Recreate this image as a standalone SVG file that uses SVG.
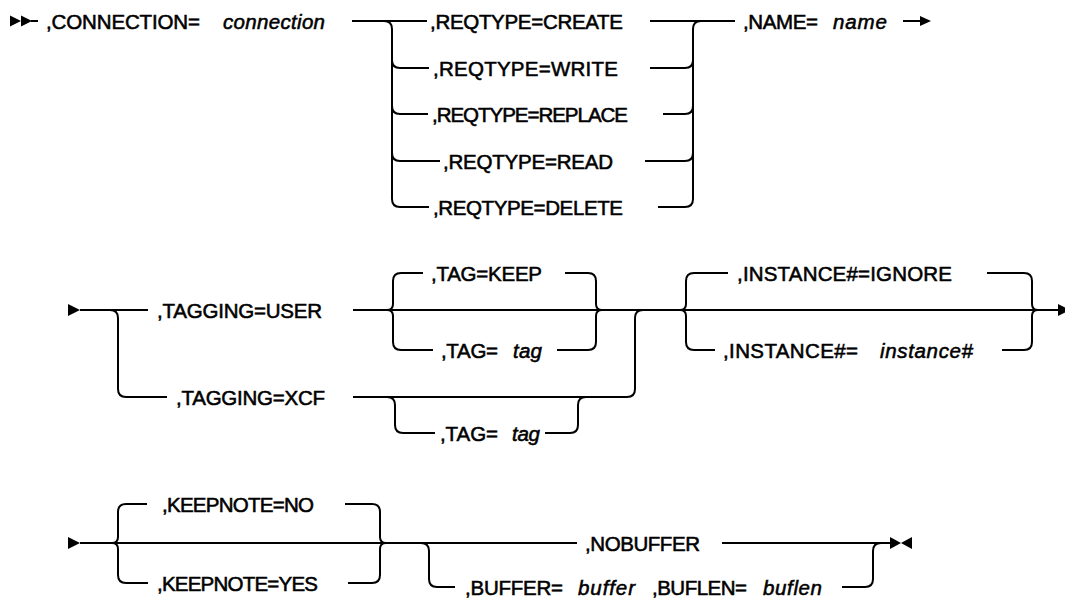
<svg xmlns="http://www.w3.org/2000/svg" width="1065" height="601" viewBox="0 0 1065 601">
  <style>
    .t { font-family: "Liberation Sans", Arial, sans-serif; font-size: 20.5px; font-weight: normal; fill: #000; stroke: #000; stroke-width: 0.55px; }
    .v { font-style: italic; }
    .ln { fill: none; stroke: #000; stroke-width: 2; }
    .mk { fill: #000; stroke: none; }
  </style>
  <rect width="1065" height="601" fill="#fff"/>

  <!-- rails, branches, braces and end markers -->
  <g id="connectors">
    <!-- line 1 -->
    <polygon class="mk" points="10,15.5 21,21 10,26.5"/>
    <polygon class="mk" points="21,15.5 32,21 21,26.5"/>
    <path class="ln" d="M31,21 H38"/>
    <path class="ln" d="M352,21 H427"/>
    <path class="ln" d="M384,21 Q392,21 392,29 V199 Q392,207 400,207 H429"/>
    <path class="ln" d="M392,60 Q392,68 400,68 H429"/>
    <path class="ln" d="M392,106 Q392,114 400,114 H428"/>
    <path class="ln" d="M392,153 Q392,161 400,161 H440"/>
    <path class="ln" d="M650,21 H735"/>
    <path class="ln" d="M658,207 H685 Q693,207 693,199 V29 Q693,21 701,21"/>
    <path class="ln" d="M650,68 H685 Q693,68 693,60"/>
    <path class="ln" d="M663,114 H685 Q693,114 693,106"/>
    <path class="ln" d="M645,161 H685 Q693,161 693,153"/>
    <path class="ln" d="M903,21 H921"/>
    <polygon class="mk" points="920,16 931,21 920,26"/>

    <!-- line 2 -->
    <polygon class="mk" points="68,304 80,310 68,316"/>
    <path class="ln" d="M80,310 H148"/>
    <path class="ln" d="M110,310 Q118,310 118,318 V389 Q118,397 126,397 H167"/>
    <path class="ln" d="M353,310 H1059"/>
    <path class="ln" d="M387,310 Q393,310 393,304 V281 Q393,273 401,273 H423"/>
    <path class="ln" d="M387,310 Q393,310 393,316 V342 Q393,350 401,350 H433"/>
    <path class="ln" d="M565,273 H588 Q596,273 596,281 V304 Q596,310 602,310"/>
    <path class="ln" d="M557,350 H588 Q596,350 596,342 V316 Q596,310 602,310"/>
    <path class="ln" d="M353,397 H627 Q635,397 635,389 V318 Q635,310 643,310"/>
    <path class="ln" d="M387,397 Q395,397 395,405 V425 Q395,433 403,433 H435"/>
    <path class="ln" d="M545,433 H570 Q578,433 578,425 V405 Q578,397 586,397"/>
    <path class="ln" d="M680,310 Q686,310 686,304 V281 Q686,273 694,273 H728"/>
    <path class="ln" d="M680,310 Q686,310 686,316 V342 Q686,350 694,350 H715"/>
    <path class="ln" d="M987,273 H1024 Q1032,273 1032,281 V304 Q1032,310 1038,310"/>
    <path class="ln" d="M1002,350 H1024 Q1032,350 1032,342 V316 Q1032,310 1038,310"/>
    <polygon class="mk" points="1058,304 1070,310 1058,316"/>

    <!-- line 3 -->
    <polygon class="mk" points="68,537 80,543 68,549"/>
    <path class="ln" d="M80,543 H577"/>
    <path class="ln" d="M722,543 H890"/>
    <path class="ln" d="M112,543 Q118,543 118,537 V512 Q118,504 126,504 H147"/>
    <path class="ln" d="M112,543 Q118,543 118,549 V575 Q118,583 126,583 H148"/>
    <path class="ln" d="M345,504 H372 Q380,504 380,512 V537 Q380,543 386,543"/>
    <path class="ln" d="M348,583 H372 Q380,583 380,575 V549 Q380,543 386,543"/>
    <path class="ln" d="M421,543 Q429,543 429,551 V579 Q429,587 437,587 H455"/>
    <path class="ln" d="M842,587 H865 Q873,587 873,579 V551 Q873,543 881,543"/>
    <polygon class="mk" points="890,537 901,543 890,549"/>
    <polygon class="mk" points="912,537 901,543 912,549"/>
  </g>

  <!-- keywords and variables -->
  <g id="connection">
    <text class="t" x="46" y="28.5" textLength="154">,CONNECTION=</text>
    <text class="t v" x="223" y="28.5" textLength="102">connection</text>
  </g>
  <g id="reqtype-create"><text class="t" x="430" y="28.5" textLength="193">,REQTYPE=CREATE</text></g>
  <g id="reqtype-write"><text class="t" x="433" y="75.5" textLength="185">,REQTYPE=WRITE</text></g>
  <g id="reqtype-replace"><text class="t" x="432" y="121.5" textLength="196">,REQTYPE=REPLACE</text></g>
  <g id="reqtype-read"><text class="t" x="443" y="168.5" textLength="170">,REQTYPE=READ</text></g>
  <g id="reqtype-delete"><text class="t" x="433" y="214.5" textLength="190">,REQTYPE=DELETE</text></g>
  <g id="name">
    <text class="t" x="743" y="28.5" textLength="75">,NAME=</text>
    <text class="t v" x="833" y="28.5" textLength="54">name</text>
  </g>

  <g id="tagging-user"><text class="t" x="157" y="317.5" textLength="165">,TAGGING=USER</text></g>
  <g id="tagging-xcf"><text class="t" x="176" y="404.5" textLength="149">,TAGGING=XCF</text></g>
  <g id="tag-keep"><text class="t" x="431" y="280.5" textLength="111">,TAG=KEEP</text></g>
  <g id="tag-user">
    <text class="t" x="441" y="357.5" textLength="57">,TAG=</text>
    <text class="t v" x="513" y="357.5" textLength="29">tag</text>
  </g>
  <g id="tag-xcf">
    <text class="t" x="440" y="440.5" textLength="58">,TAG=</text>
    <text class="t v" x="512" y="440.5" textLength="28">tag</text>
  </g>
  <g id="instance-ignore"><text class="t" x="737" y="280.5" textLength="215">,INSTANCE#=IGNORE</text></g>
  <g id="instance">
    <text class="t" x="723" y="357.5" textLength="135">,INSTANCE#=</text>
    <text class="t v" x="880" y="357.5" textLength="93">instance#</text>
  </g>

  <g id="keepnote-no"><text class="t" x="162" y="511.5" textLength="152">,KEEPNOTE=NO</text></g>
  <g id="keepnote-yes"><text class="t" x="157" y="590.5" textLength="161">,KEEPNOTE=YES</text></g>
  <g id="nobuffer"><text class="t" x="585" y="550.5" textLength="115">,NOBUFFER</text></g>
  <g id="buffer">
    <text class="t" x="465" y="594.5" textLength="98">,BUFFER=</text>
    <text class="t v" x="578" y="594.5" textLength="57">buffer</text>
    <text class="t" x="652" y="594.5" textLength="95">,BUFLEN=</text>
    <text class="t v" x="763" y="594.5" textLength="59">buflen</text>
  </g>
</svg>
